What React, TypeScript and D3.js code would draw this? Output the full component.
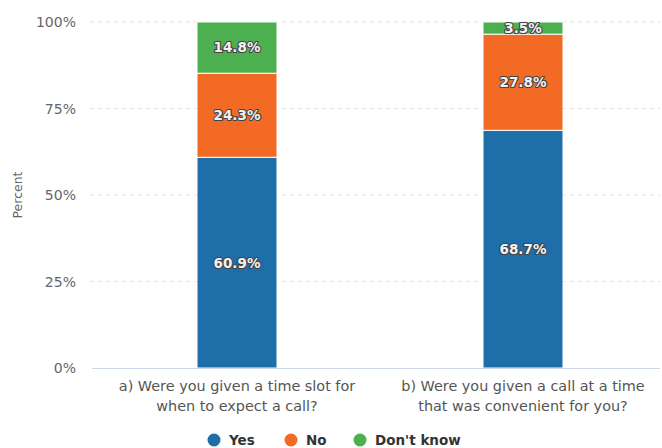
import React from "react";
import * as d3 from "d3";

const categories = [
  ["a) Were you given a time slot for", "when to expect a call?"],
  ["b) Were you given a call at a time", "that was convenient for you?"],
];
const seriesNames = ["Yes", "No", "Don't know"];
const seriesColors = ["#1d6ea9", "#f26a24", "#4caf50"];
const yesValues = [60.9, 68.7];
const noValues = [24.3, 27.8];
const dontKnowValues = [14.8, 3.5];
const yTicks = [0, 25, 50, 75, 100];

const W = 662;
const H = 448;
const plotLeft = 94;
const plotRight = 666;
const plotTop = 22;
const plotBottom = 368;

export default function App() {
  const x = d3.scaleBand<number>().domain([0, 1]).range([plotLeft, plotRight]).padding(0);
  const y = d3.scaleLinear().domain([0, 100]).range([plotBottom, plotTop]);
  const barW = 80;
  const seriesVals = [yesValues, noValues, dontKnowValues];
  const stackData = categories.map((_, i) => ({
    i,
    s0: seriesVals[0][i],
    s1: seriesVals[1][i],
    s2: seriesVals[2][i],
  }));
  const stack = d3.stack<any>().keys(["s0", "s1", "s2"]);
  const series = stack(stackData);
  const font = "'DejaVu Sans', sans-serif";
  const boldFont = "'DejaVu Sans', sans-serif";

  const legendX = [214, 291, 360];

  return (
    <svg width={W} height={H} style={{ position: "absolute", left: 0, top: 0, fontFamily: font }}>
      <rect width={W} height={H} fill="#fff" />
      {yTicks.map((t) => (
        <g key={t}>
          {t > 0 && (
            <line x1={90} x2={660} y1={y(t)} y2={y(t)} stroke="#e3e3e3" strokeDasharray="4,4" />
          )}
          <text x={76} y={y(t)} dy="0.36em" textAnchor="end" fontSize={14} fill="#666">
            {t}%
          </text>
        </g>
      ))}
      <text
        transform={`translate(22,${(plotTop + plotBottom) / 2}) rotate(-90)`}
        textAnchor="middle"
        fontSize={12.5}
        fill="#666"
      >
        Percent
      </text>
      {series.map((s, si) =>
        s.map((d, ci) => {
          const cx = x(ci)! + x.bandwidth() / 2;
          const y0 = y(d[0]);
          const y1 = y(d[1]);
          const v = seriesVals[si][ci];
          return (
            <g key={`${si}-${ci}`}>
              <rect x={cx - barW / 2} y={y1} width={barW} height={y0 - y1} fill={seriesColors[si]} stroke="#fff" strokeWidth={1} />
              <text
                x={cx}
                y={(y0 + y1) / 2}
                dy="0.36em"
                textAnchor="middle"
                fontSize={13.5}
                fontWeight="bold"
                fontFamily={boldFont}
                fill="#f2f2f2"
                stroke="#444"
                strokeWidth={2.2}
                paintOrder="stroke"
                strokeLinejoin="round"
              >
                {v.toFixed(1)}%
              </text>
            </g>
          );
        })
      )}
      <line x1={92} x2={660} y1={plotBottom + 0.5} y2={plotBottom + 0.5} stroke="#ccd6eb" />
      {categories.map((lines, ci) => {
        const cx = x(ci)! + x.bandwidth() / 2;
        return (
          <text key={ci} x={cx} y={391} textAnchor="middle" fontSize={14.4} fill="#555">
            {lines.map((l, li) => (
              <tspan key={li} x={cx} dy={li === 0 ? 0 : 20}>
                {l}
              </tspan>
            ))}
          </text>
        );
      })}
      {seriesNames.map((n, i) => (
        <g key={n}>
          <circle cx={legendX[i]} cy={440} r={6.5} fill={seriesColors[i]} />
          <text x={legendX[i] + 15} y={440} dy="0.36em" fontSize={13.5} fontWeight="bold" fontFamily={boldFont} fill="#333">
            {n}
          </text>
        </g>
      ))}
    </svg>
  );
}
